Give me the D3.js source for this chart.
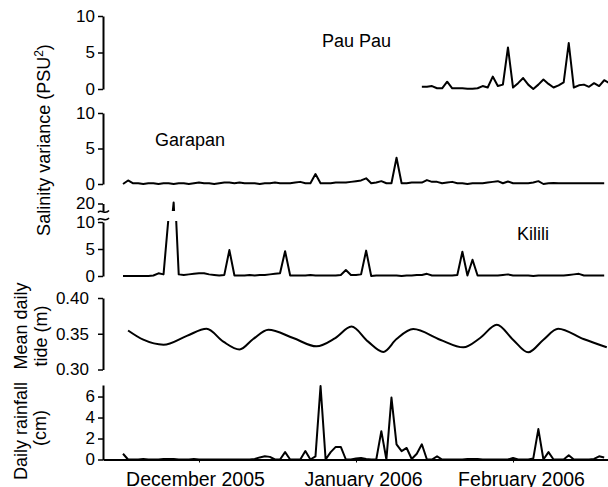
<!DOCTYPE html>
<html>
<head>
<meta charset="utf-8">
<script src="https://cdn.jsdelivr.net/npm/d3@7"></script>
<style>
	body { margin: 0; background: #fff; }
	svg text { font-family: "Liberation Sans", Arial, sans-serif; fill: #000; }
	.domain, .tick line { stroke: #000; }
</style>
</head>
<body>
<svg id="svgChart" width="608" height="487"></svg>
<script>
/*
	Salinity variance at three sites, mean daily tide and daily rainfall,
	Dec 2005 - Mar 2006. Daily series start on day 0 = 30 Nov 2005.
*/
var startDay = Date.UTC(2005, 10, 30);
var monthTicks = [Date.UTC(2005, 11, 15), Date.UTC(2006, 0, 15), Date.UTC(2006, 1, 15)];
var monthLabels = ["December 2005", "January 2006", "February 2006"];

// Pau Pau logger only starts late January
var pauPauFirstDay = 59;
var pauPauVar = [0.3, 0.3, 0.4, 0.1, 0.1, 1.0, 0.1, 0.1, 0.1, 0.05, 0.05, 0.1, 0.4, 0.2, 1.7, 0.4,
	0.6, 5.7, 0.2, 0.8, 1.5, 0.6, 0.0, 0.6, 1.3, 0.7, 0.2, 0.5, 0.9, 6.3, 0.2, 0.5, 0.6, 0.3, 0.8,
	0.4, 1.2, 0.8];

var garapanVar = [0.0, 0.5, 0.1, 0.1, 0.0, 0.1, 0.1, 0.0, 0.1, 0.1, 0.0, 0.1, 0.1, 0.0, 0.1, 0.2,
	0.1, 0.1, 0.0, 0.1, 0.2, 0.2, 0.1, 0.2, 0.1, 0.1, 0.1, 0.0, 0.1, 0.1, 0.2, 0.1, 0.1, 0.1, 0.2,
	0.3, 0.1, 0.1, 1.4, 0.1, 0.1, 0.1, 0.2, 0.2, 0.2, 0.3, 0.4, 0.5, 0.8, 0.1, 0.2, 0.4, 0.1, 0.1,
	3.7, 0.1, 0.1, 0.2, 0.2, 0.2, 0.55, 0.3, 0.3, 0.1, 0.2, 0.3, 0.1, 0.1, 0.0, 0.1, 0.1, 0.1, 0.2,
	0.3, 0.4, 0.1, 0.35, 0.1, 0.1, 0.1, 0.1, 0.2, 0.4, 0.0, 0.1, 0.15, 0.1, 0.1, 0.1, 0.1, 0.1, 0.1,
	0.1, 0.1, 0.1, 0.1];

var kililiVar = [0.0, 0.0, 0.0, 0.0, 0.0, 0.0, 0.1, 0.5, 0.3, 11.0, 20.2, 0.3, 0.2, 0.3, 0.4, 0.5,
	0.5, 0.3, 0.2, 0.1, 0.2, 4.8, 0.1, 0.1, 0.1, 0.2, 0.1, 0.2, 0.2, 0.3, 0.4, 0.5, 4.6, 0.1, 0.1,
	0.1, 0.1, 0.2, 0.1, 0.1, 0.1, 0.1, 0.1, 0.2, 1.1, 0.2, 0.2, 0.3, 4.7, 0.0, 0.1, 0.1, 0.1, 0.1,
	0.1, 0.0, 0.1, 0.1, 0.2, 0.2, 0.4, 0.1, 0.1, 0.1, 0.1, 0.1, 0.2, 4.5, 0.1, 3.0, 0.1, 0.1, 0.1,
	0.1, 0.1, 0.2, 0.3, 0.1, 0.1, 0.1, 0.1, 0.0, 0.1, 0.1, 0.1, 0.1, 0.1, 0.1, 0.2, 0.3, 0.4, 0.1,
	0.1, 0.1, 0.1, 0.1];

// tide read at its turning points and between them
var tideDays = [1, 4, 8, 12.6, 16.5, 19.8, 23, 25.7, 28.7, 33.6, 38.2, 41.9, 45.1, 48.4, 51.4,
	54, 57.3, 62.6, 67.2, 70.5, 73.8, 77, 80, 83, 85.9, 90.9, 95.5];
var tideLevel = [0.3546, 0.3417, 0.3347, 0.347, 0.357, 0.339, 0.328, 0.3426, 0.3556, 0.344,
	0.3324, 0.344, 0.360, 0.339, 0.3246, 0.3426, 0.3565, 0.3417, 0.331, 0.344, 0.3625, 0.3417,
	0.324, 0.3417, 0.357, 0.3426, 0.331];

var rainfall = [0.55, 0, 0, 0, 0.05, 0, 0, 0, 0.05, 0.05, 0.05, 0, 0, 0, 0.05, 0, 0, 0, 0, 0, 0,
	0, 0, 0, 0, 0, 0.05, 0.2, 0.3, 0.25, 0, 0, 0.7, 0, 0, 0, 0.8, 0, 0.3, 7.0, 0, 0.7, 1.2, 1.2, 0,
	0, 0.1, 0.15, 0.05, 0, 0, 2.7, 0, 5.9, 1.45, 0.8, 1.1, 0.05, 0.55, 1.45, 0, 0, 0.3, 0, 0, 0, 0,
	0, 0.05, 0.05, 0.05, 0, 0, 0, 0, 0, 0, 0.15, 0, 0, 0, 0.1, 2.9, 0, 0.7, 0, 0, 0, 0.4, 0, 0, 0,
	0, 0.05, 0.3, 0.2];

function dayDate(d){
	return new Date(startDay + d * 864e5);
}
function daily(values, first){
	return values.map(function(v, i){ return {date: dayDate(first + i), v: v}; });
}

var svg = d3.select("#svgChart");
var axisX = 103;

var x = d3.scaleUtc()
	.domain([dayDate(-3.95), dayDate(95.75)])
	.range([axisX, 608]);

function drawSeries(data, y, clipId){
	var line = d3.line()
		.x(function(d){ return x(d.date); })
		.y(function(d){ return y(d.v); });
	var p = svg.append("path")
		.datum(data)
		.attr("fill", "none")
		.attr("stroke", "#000")
		.attr("stroke-width", 2)
		.attr("stroke-linejoin", "round")
		.attr("d", line);
	if(clipId){ p.attr("clip-path", "url(#" + clipId + ")"); }
	return p;
}

function drawYAxis(y, ticks, fmt, pad){
	var g = svg.append("g")
		.attr("transform", "translate(" + axisX + ",0)")
		.call(d3.axisLeft(y).tickValues(ticks).tickFormat(fmt || d3.format("d"))
			.tickSize(5).tickSizeOuter(0).tickPadding(pad || 3));
	g.select(".domain").attr("stroke-width", 2);
	g.selectAll(".tick line").attr("stroke-width", 1.5);
	g.selectAll("text").attr("font-size", 17).attr("fill", "#000");
	return g;
}

function label(txt, px, py){
	svg.append("text").attr("x", px).attr("y", py).attr("font-size", 18).text(txt);
}

// clip regions for the broken Kilili axis
var defs = svg.append("defs");
defs.append("clipPath").attr("id", "kLow").append("rect")
	.attr("x", axisX).attr("y", 221).attr("width", 510).attr("height", 70);
defs.append("clipPath").attr("id", "kHigh").append("rect")
	.attr("x", axisX).attr("y", 188).attr("width", 510).attr("height", 23);

/* Pau Pau */
var yPau = d3.scaleLinear().domain([0, 10]).range([89, 16]);
drawYAxis(yPau, [0, 5, 10]);
drawSeries(daily(pauPauVar, pauPauFirstDay), yPau);
label("Pau Pau", 322, 47);

/* Garapan */
var yGar = d3.scaleLinear().domain([0, 10]).range([184, 113]);
drawYAxis(yGar, [0, 5, 10]);
drawSeries(daily(garapanVar, 0), yGar);
label("Garapan", 155, 146);

/* Kilili, with a break between 10 and 20 */
var yKilLow = d3.scaleLinear().domain([0, 10]).range([276, 222]);
var yKilHigh = d3.scaleLinear().domain([18.7, 20]).range([210.5, 203.5]);
drawYAxis(yKilLow, [0, 5, 10]);
drawYAxis(yKilHigh, [20]);
drawSeries(daily(kililiVar, 0), yKilLow, "kLow");
drawSeries(daily(kililiVar, 0), yKilHigh, "kHigh");
[211.5, 219].forEach(function(by){
	svg.append("path")
		.attr("d", "M" + (axisX - 5) + "," + (by + 1) + " C" + (axisX - 2) + "," + (by - 3)
			+ " " + (axisX + 2) + "," + (by + 4) + " " + (axisX + 6) + "," + (by - 1))
		.attr("fill", "none").attr("stroke", "#000").attr("stroke-width", 1.5);
});
label("Kilili", 517, 240);

/* Mean daily tide */
var yTide = d3.scaleLinear().domain([0.30, 0.40]).range([369.5, 298]);
drawYAxis(yTide, [0.30, 0.35, 0.40], d3.format(".2f"), 9);
var tideData = tideDays.map(function(d, i){ return {date: dayDate(d), v: tideLevel[i]}; });
drawSeries(tideData, yTide).attr("d", d3.line()
	.x(function(d){ return x(d.date); })
	.y(function(d){ return yTide(d.v); })
	.curve(d3.curveMonotoneX));

/* Daily rainfall */
var yRain = d3.scaleLinear().domain([0, 7.1]).range([459.5, 385]);
drawYAxis(yRain, [0, 2, 4, 6]);
drawSeries(daily(rainfall, 0), yRain);

// month labels sit a little off their ticks in the original
var labelShift = [-4, 7, 8];
var gx = svg.append("g")
	.attr("transform", "translate(0,459.5)")
	.call(d3.axisBottom(x).tickValues(monthTicks.map(function(t){ return new Date(t); }))
		.tickFormat(function(d, i){ return monthLabels[i]; })
		.tickSize(3).tickSizeOuter(0).tickPadding(10));
gx.select(".domain").attr("stroke-width", 2);
gx.selectAll("text")
	.attr("font-size", 19.5)
	.attr("fill", "#000")
	.attr("dx", function(d, i){ return labelShift[i]; });

/* axis titles */
function vTitle(px, py){
	return svg.append("text")
		.attr("transform", "translate(" + px + "," + py + ") rotate(-90)")
		.attr("text-anchor", "middle")
		.attr("font-size", 18);
}
var sal = vTitle(50, 140);
sal.append("tspan").text("Salinity variance (PSU");
sal.append("tspan").attr("font-size", 12).attr("dy", -7).text("2");
sal.append("tspan").attr("dy", 7).text(")");
vTitle(27, 326).text("Mean daily");
vTitle(47, 336).text("tide (m)");
vTitle(27, 431).text("Daily rainfall");
vTitle(46, 428).text("(cm)");
</script>
</body>
</html>
